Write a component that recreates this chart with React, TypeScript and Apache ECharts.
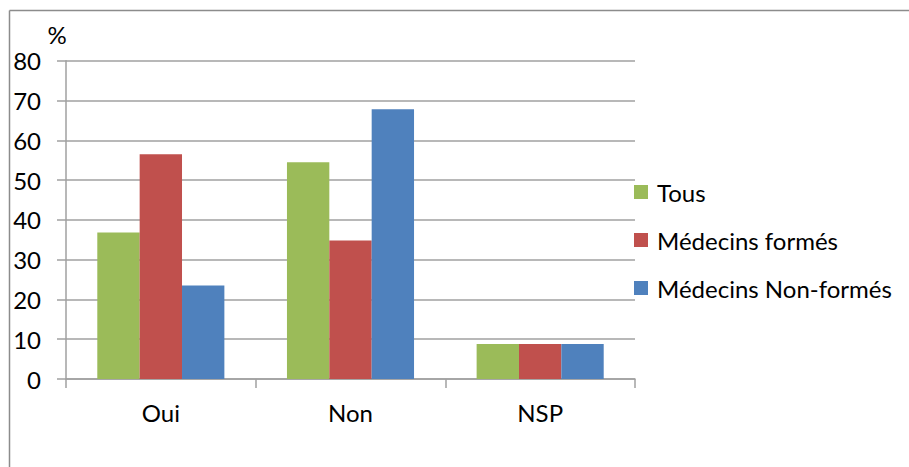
import React, { useEffect, useRef } from "react";
import * as echarts from "echarts";

// Réponses par catégorie (en %)
const categories = ["Oui", "Non", "NSP"];
const tous = [36.8, 54.5, 8.8];
const medecinsFormes = [56.5, 34.8, 8.8];
const medecinsNonFormes = [23.5, 67.8, 8.8];
const seriesNames = ["Tous", "Médecins formés", "Médecins Non-formés"];
const seriesColors = ["#9bbb59", "#c0504d", "#4f81bd"];

const FONT = "Lato, 'Open Sans', sans-serif";
const GRAY = "#a0a0a0";

export default function App() {
  const ref = useRef<HTMLDivElement>(null);

  useEffect(() => {
    if (!ref.current) return;
    const chart = echarts.init(ref.current, undefined, { renderer: "svg" });
    const values = [tous, medecinsFormes, medecinsNonFormes];
    chart.setOption({
      animation: false,
      backgroundColor: "#ffffff",
      textStyle: { fontFamily: FONT },
      grid: { left: 66, right: 274, top: 60.7, bottom: 88, containLabel: false },
      legend: {
        orient: "vertical",
        left: 629,
        top: 175,
        itemWidth: 14,
        itemHeight: 14,
        itemGap: 24,
        icon: "rect",
        textStyle: { fontFamily: FONT, fontSize: 24, color: "#000", lineHeight: 24, padding: [0, 0, 0, 4] },
        data: seriesNames,
      },
      xAxis: {
        type: "category",
        data: categories,
        axisLine: { lineStyle: { color: GRAY, width: 1.5 } },
        axisTick: { show: true, length: 9, lineStyle: { color: GRAY, width: 1.5 } },
        axisLabel: { color: "#000", fontSize: 24, fontFamily: FONT, margin: 21 },
      },
      yAxis: {
        type: "value",
        min: 0,
        max: 80,
        interval: 10,
        name: "%",
        nameLocation: "end",
        nameGap: 14,
        nameTextStyle: { color: "#000", fontSize: 24, fontFamily: FONT, padding: [0, 18, 0, 0] },
        axisLine: { show: true, lineStyle: { color: GRAY, width: 1.5 } },
        axisTick: { show: true, length: 9, lineStyle: { color: GRAY, width: 1.5 } },
        axisLabel: { color: "#000", fontSize: 24, fontFamily: FONT, margin: 25 },
        splitLine: { lineStyle: { color: GRAY, width: 1.5 } },
      },
      series: seriesNames.map((name, i) => ({
        name,
        type: "bar",
        data: values[i],
        barGap: "0%",
        barCategoryGap: "33%",
        itemStyle: { color: seriesColors[i] },
      })),
      graphic: [
        {
          type: "line",
          shape: { x1: 9.5, y1: 10.5, x2: 909, y2: 10.5 },
          style: { stroke: "#8c8c8c", lineWidth: 1.5 },
          silent: true,
        },
        {
          type: "line",
          shape: { x1: 9.5, y1: 10.5, x2: 9.5, y2: 467 },
          style: { stroke: "#8c8c8c", lineWidth: 1.5 },
          silent: true,
        },
      ],
    });
    return () => chart.dispose();
  }, []);

  return (
    <div
      ref={ref}
      style={{ width: 909, height: 467, position: "absolute", left: 0, top: 0 }}
    />
  );
}
